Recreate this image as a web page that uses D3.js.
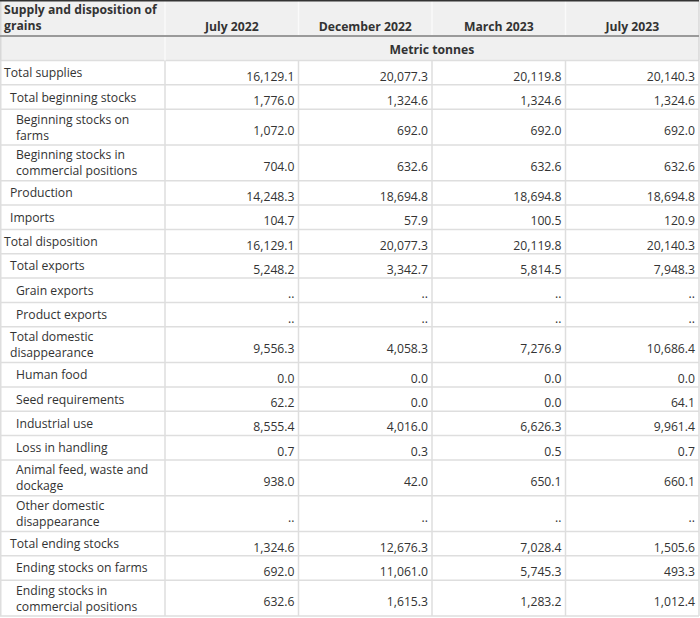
<!DOCTYPE html>
<html>
<head>
<meta charset="utf-8">
<script src="https://cdn.jsdelivr.net/npm/d3@7"></script>
<style>
  body { margin: 0; background: #fff; }
  text { font-family: "Open Sans", "Noto Sans", sans-serif; fill: #333; }
</style>
</head>
<body>
<div id="vis"></div>
<script>
var width = 700;
var height = 618;

// data
var stubHeader = "Supply and disposition of grains";
var columns = ["July 2022", "December 2022", "March 2023", "July 2023"];
var unitLabel = "Metric tonnes";

var rowLabels = [
  "Total supplies",
  "Total beginning stocks",
  "Beginning stocks on farms",
  "Beginning stocks in commercial positions",
  "Production",
  "Imports",
  "Total disposition",
  "Total exports",
  "Grain exports",
  "Product exports",
  "Total domestic disappearance",
  "Human food",
  "Seed requirements",
  "Industrial use",
  "Loss in handling",
  "Animal feed, waste and dockage",
  "Other domestic disappearance",
  "Total ending stocks",
  "Ending stocks on farms",
  "Ending stocks in commercial positions"
];
var rowLevels = [0, 1, 2, 2, 1, 1, 0, 1, 2, 2, 1, 2, 2, 2, 2, 2, 2, 1, 2, 2];

// null = ".." (not available)
var july2022 = [16129.1, 1776.0, 1072.0, 704.0, 14248.3, 104.7, 16129.1, 5248.2, null, null,
                9556.3, 0.0, 62.2, 8555.4, 0.7, 938.0, null, 1324.6, 692.0, 632.6];
var dec2022  = [20077.3, 1324.6, 692.0, 632.6, 18694.8, 57.9, 20077.3, 3342.7, null, null,
                4058.3, 0.0, 0.0, 4016.0, 0.3, 42.0, null, 12676.3, 11061.0, 1615.3];
var mar2023  = [20119.8, 1324.6, 692.0, 632.6, 18694.8, 100.5, 20119.8, 5814.5, null, null,
                7276.9, 0.0, 0.0, 6626.3, 0.5, 650.1, null, 7028.4, 5745.3, 1283.2];
var jul2023  = [20140.3, 1324.6, 692.0, 632.6, 18694.8, 120.9, 20140.3, 7948.3, null, null,
                10686.4, 0.0, 64.1, 9961.4, 0.7, 660.1, null, 1505.6, 493.3, 1012.4];
var series = [july2022, dec2022, mar2023, jul2023];

// layout
var stubWidth = 165;
var tableRight = 699;
var headerH = 36;
var unitH = 23.5;
var lineH = 16;
var singleH = 24.35;
var doubleH = 35.75;
var fontSize = 12.2;
var indent = [4, 10, 16];
var gridColor = "#dedede";
var headBg = "#f0f0f0";

var fmt = d3.format(",.1f");

var svg = d3.select("#vis")
  .append("svg")
  .attr("width", width)
  .attr("height", height);

var x = d3.scaleBand()
  .domain(columns)
  .range([stubWidth, tableRight]);

// wrap a label into lines that fit the stub column
var measure = svg.append("text").style("font-size", fontSize + "px").attr("visibility", "hidden");
function wrap(str, maxW, bold) {
  measure.style("font-weight", bold ? "bold" : "normal");
  var words = str.split(" ");
  var lines = [];
  var cur = words[0];
  for (var i = 1; i < words.length; i++) {
    measure.text(cur + " " + words[i]);
    if (measure.node().getComputedTextLength() > maxW) {
      lines.push(cur);
      cur = words[i];
    } else {
      cur = cur + " " + words[i];
    }
  }
  lines.push(cur);
  return lines;
}

var rows = rowLabels.map(function(label, i) {
  var lines = wrap(label, stubWidth - 8 - indent[rowLevels[i]], false);
  return { label: label, level: rowLevels[i], lines: lines,
           h: lines.length > 1 ? doubleH : singleH,
           values: series.map(function(s) { return s[i]; }) };
});

var bodyTop = headerH + 1 + unitH;
var yy = bodyTop;
rows.forEach(function(r) { r.y = yy; yy += r.h; });
var bodyBottom = yy;

// header background
svg.append("rect")
  .attr("x", 0).attr("y", 0)
  .attr("width", tableRight).attr("height", bodyTop)
  .attr("fill", headBg);

// horizontal grid lines in body
svg.selectAll("line.hgrid")
  .data(rows)
  .enter().append("line")
  .attr("class", "hgrid")
  .attr("x1", 0).attr("x2", tableRight)
  .attr("y1", function(d) { return d.y + d.h; })
  .attr("y2", function(d) { return d.y + d.h; })
  .attr("stroke", gridColor)
  .attr("stroke-width", 1.5);

svg.append("line")
  .attr("x1", 0).attr("x2", tableRight)
  .attr("y1", bodyTop).attr("y2", bodyTop)
  .attr("stroke", gridColor).attr("stroke-width", 1.5);

// vertical grid lines
var vEdges = [0.75, stubWidth].concat(columns.map(function(c) { return x(c) + x.bandwidth(); }));
svg.selectAll("line.vgrid")
  .data(vEdges)
  .enter().append("line")
  .attr("class", "vgrid")
  .attr("x1", function(d) { return d; }).attr("x2", function(d) { return d; })
  .attr("y1", bodyTop).attr("y2", bodyBottom)
  .attr("stroke", gridColor)
  .attr("stroke-width", 1.5);

// light dividers in header
svg.selectAll("line.hv")
  .data(vEdges.slice(1, -1))
  .enter().append("line")
  .attr("class", "hv")
  .attr("x1", function(d) { return d; }).attr("x2", function(d) { return d; })
  .attr("y1", 0)
  .attr("y2", function(d) { return d === stubWidth ? bodyTop : headerH; })
  .attr("stroke", "#fafafa")
  .attr("stroke-width", 1.5);

svg.selectAll("line.hedge")
  .data([0.75, tableRight])
  .enter().append("line")
  .attr("class", "hedge")
  .attr("x1", function(d) { return d; }).attr("x2", function(d) { return d; })
  .attr("y1", 0).attr("y2", bodyTop)
  .attr("stroke", "#d8d8d8").attr("stroke-width", 1.5);

// top border and header rule
svg.append("line")
  .attr("x1", 0).attr("x2", tableRight)
  .attr("y1", 0.75).attr("y2", 0.75)
  .attr("stroke", "#333").attr("stroke-width", 1.5);

svg.append("line")
  .attr("x1", 0).attr("x2", tableRight)
  .attr("y1", headerH).attr("y2", headerH)
  .attr("stroke", "#9a9a9a").attr("stroke-width", 2);

// header texts
var stubLines = wrap(stubHeader, stubWidth - 1, true);
var stubText = svg.append("text")
  .attr("x", 4).attr("y", 14)
  .style("font-size", fontSize + "px")
  .style("font-weight", "bold");
stubText.selectAll("tspan")
  .data(stubLines)
  .enter().append("tspan")
  .attr("x", 4)
  .attr("dy", function(d, i) { return i === 0 ? 0 : lineH; })
  .text(function(d) { return d; });

svg.selectAll("text.colhead")
  .data(columns)
  .enter().append("text")
  .attr("class", "colhead")
  .attr("x", function(d) { return x(d) + x.bandwidth() / 2; })
  .attr("y", 30.5)
  .attr("text-anchor", "middle")
  .style("font-size", fontSize + "px")
  .style("font-weight", "bold")
  .text(function(d) { return d; });

svg.append("text")
  .attr("x", (stubWidth + tableRight) / 2)
  .attr("y", 54)
  .attr("text-anchor", "middle")
  .style("font-size", fontSize + "px")
  .style("font-weight", "bold")
  .text(unitLabel);

// row labels
var labelG = svg.selectAll("text.label")
  .data(rows)
  .enter().append("text")
  .attr("class", "label")
  .style("font-size", fontSize + "px")
  .attr("y", function(d) { return d.y + d.h / 2 - (d.lines.length - 1) * lineH / 2 + 4.5; });

labelG.selectAll("tspan")
  .data(function(d) { return d.lines.map(function(l) { return { t: l, x: indent[d.level] }; }); })
  .enter().append("tspan")
  .attr("x", function(d) { return d.x; })
  .attr("dy", function(d, i) { return i === 0 ? 0 : lineH; })
  .text(function(d) { return d.t; });

// values
var rowG = svg.selectAll("g.row")
  .data(rows)
  .enter().append("g")
  .attr("class", "row");

rowG.selectAll("text")
  .data(function(d) {
    return d.values.map(function(v, j) { return { v: v, col: columns[j], cy: d.y + d.h / 2 }; });
  })
  .enter().append("text")
  .attr("x", function(d) { return x(d.col) + x.bandwidth() - 4; })
  .attr("y", function(d) { return d.cy + 8; })
  .attr("text-anchor", "end")
  .style("font-size", fontSize + "px")
  .text(function(d) { return d.v === null ? ".." : fmt(d.v); });
</script>
</body>
</html>
